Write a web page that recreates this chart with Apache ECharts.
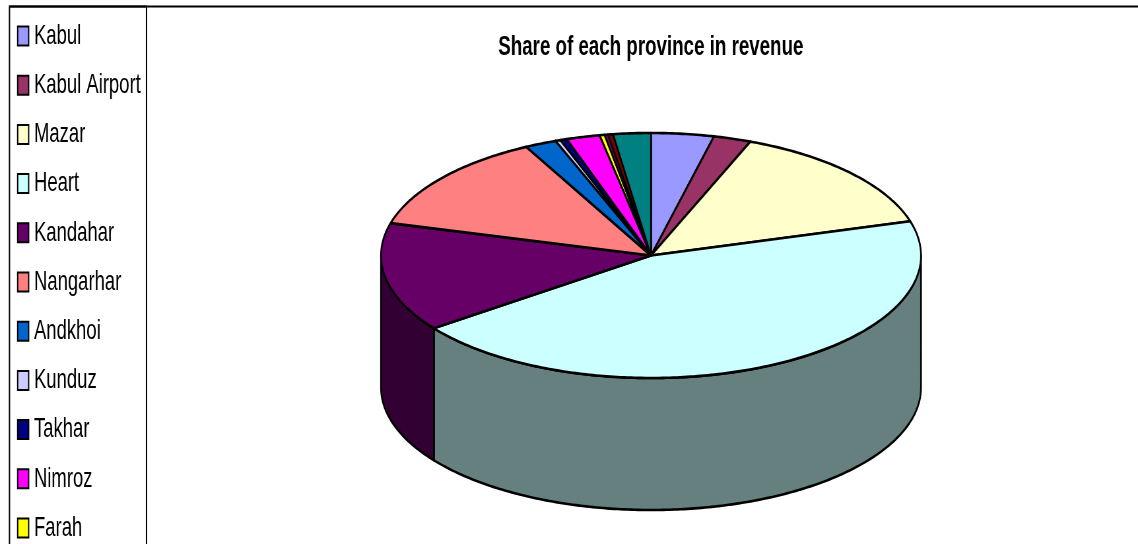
<!DOCTYPE html>
<html>
<head>
<meta charset="utf-8">
<title>Share of each province in revenue</title>
<style>
  html, body { margin: 0; padding: 0; background: #fff; overflow: hidden; width: 1138px; height: 544px; }
  /* The chart is laid out wide and narrowed as a whole, which condenses its lettering. */
  #chart { width: 1724px; height: 544px; transform: scaleX(0.6601); transform-origin: 0 0; }
</style>
</head>
<body>
<div id="chart"></div>
<script src="https://cdn.jsdelivr.net/npm/echarts@6/dist/echarts.min.js"></script>
<script>
const chartTitle = 'Share of each province in revenue';

// Provinces listed in the legend
const provinces = ['Kabul', 'Kabul Airport', 'Mazar', 'Heart', 'Kandahar', 'Nangarhar',
                   'Andkhoi', 'Kunduz', 'Takhar', 'Nimroz', 'Farah'];
const provinceShares = [3.75, 2.25, 14.5, 44.4, 14.4, 13.1, 1.9, 0.3, 0.4, 2.0, 0.3];
const provinceColors = ['#9999FF', '#993366', '#FFFFCC', '#CCFFFF', '#660066', '#FF8080',
                        '#0066CC', '#CCCCFF', '#000080', '#FF00FF', '#FFFF00'];

// Remaining slices, which have no room in the legend
const extraShares = [0.2, 0.3, 2.25];
const extraColors = ['#800080', '#800000', '#008080'];

const narrowing = 1138 / 1724;
const px = x => x / narrowing;

// Disc geometry: ellipse of the top face and height of the wall
const disc = { cx: px(651), cy: 255.5, rx: px(270), ry: 122.5, depth: 132 };

const allShares = provinceShares.concat(extraShares);
const total = allShares.reduce((a, b) => a + b, 0);

// Point on the rim; angle in degrees, clockwise from twelve o'clock
function rim(angle, drop) {
  const r = angle * Math.PI / 180;
  return [disc.cx + disc.rx * Math.sin(r), disc.cy - disc.ry * Math.cos(r) + (drop || 0)];
}

function arc(from, to, drop) {
  const steps = Math.max(2, Math.ceil((to - from) / 0.75));
  const pts = [];
  for (let i = 0; i <= steps; i++) pts.push(rim(from + (to - from) * i / steps, drop));
  return pts;
}

// Wall shade: the slice colour at half brightness
function shade(color) {
  const [r, g, b] = echarts.color.parse(color);
  return `rgb(${r >> 1},${g >> 1},${b >> 1})`;
}

function renderSlice(params, api) {
  const start = api.value(0), end = api.value(1);
  const color = api.visual('color');
  const line = { stroke: '#000', lineWidth: 2.6, lineJoin: 'round' };
  const children = [];

  // Only the part of the rim facing the viewer (90..270 degrees) shows a wall
  const wallFrom = Math.max(start, 90), wallTo = Math.min(end, 270);
  if (wallTo > wallFrom) {
    const top = arc(wallFrom, wallTo, 0);
    const bottom = arc(wallFrom, wallTo, disc.depth).reverse();
    children.push({
      type: 'polygon', z2: 1,
      shape: { points: top.concat(bottom) },
      style: Object.assign({ fill: shade(color) }, line)
    });
  }

  children.push({
    type: 'polygon', z2: 2,
    shape: { points: [[disc.cx, disc.cy]].concat(arc(start, end, 0)) },
    style: Object.assign({ fill: color }, line)
  });
  return { type: 'group', children };
}

// One custom series per slice, so the legend can pick up each province by name
let running = 0;
const series = allShares.map((share, i) => {
  const start = running / total * 360;
  running += share;
  const end = running / total * 360;
  return {
    type: 'custom',
    name: provinces[i],
    coordinateSystem: 'none',
    silent: true,
    itemStyle: { color: i < provinces.length ? provinceColors[i] : extraColors[i - provinces.length] },
    renderItem: renderSlice,
    data: [[start, end]]
  };
});

const chart = echarts.init(document.getElementById('chart'), null, { width: 1724, height: 544 });
chart.setOption({
  animation: false,
  backgroundColor: '#fff',
  title: {
    text: chartTitle,
    left: px(647.5),
    top: 28,
    textAlign: 'center',
    textStyle: { fontFamily: 'Liberation Sans', fontSize: 28.4, fontWeight: 'bold', color: '#000' }
  },
  legend: {
    orient: 'vertical',
    left: px(17),
    top: 21,
    padding: 0,
    itemWidth: px(11),
    itemHeight: 19,
    itemGap: 19.2,
    icon: 'rect',
    selectedMode: false,
    data: provinces,
    itemStyle: { borderColor: '#000', borderWidth: 2 },
    textStyle: { fontFamily: 'Liberation Sans', fontSize: 28, lineHeight: 30, color: '#000', padding: [0, 0, 0, 3] }
  },
  graphic: [
    {
      type: 'rect', silent: true, z: -1,
      shape: { x: px(9.5), y: 6.5, width: px(137), height: 600 },
      style: { fill: 'none', stroke: '#000', lineWidth: 2 }
    },
    {
      type: 'line', silent: true, z: -1,
      shape: { x1: px(9.5), y1: 6.5, x2: 1724, y2: 6.5 },
      style: { stroke: '#000', lineWidth: 2 }
    }
  ],
  series
});
</script>
</body>
</html>
